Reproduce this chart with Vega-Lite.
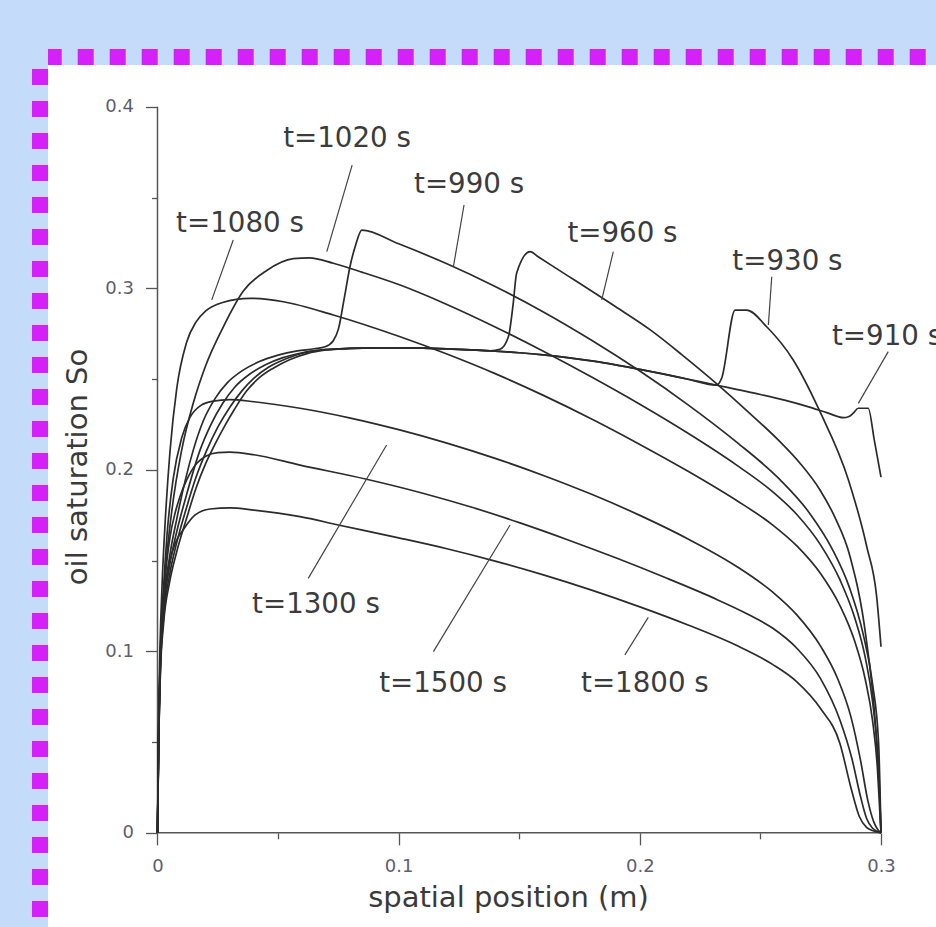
{
  "$schema": "https://vega.github.io/schema/vega-lite/v6.json",
  "width": 888,
  "height": 862,
  "autosize": {"type": "none"},
  "padding": {"left": 48, "top": 65, "right": 0, "bottom": 0},
  "background": "#c4dcfa",
  "config": {
    "view": {"fill": "white", "stroke": null},
    "axis": {"grid": false, "labelFont": "DejaVu Sans", "titleFont": "DejaVu Sans"}
  },
  "datasets": {
    "labels": [
      {"label": "t=1020 s", "lx": 0.0786, "ly": 0.3779, "ax": 0.0807, "ay": 0.3679, "bx": 0.0702, "by": 0.3202},
      {"label": "t=990 s", "lx": 0.1292, "ly": 0.3525, "ax": 0.1271, "ay": 0.3459, "bx": 0.1227, "by": 0.3119},
      {"label": "t=1080 s", "lx": 0.0342, "ly": 0.331, "ax": 0.0314, "ay": 0.3266, "bx": 0.0225, "by": 0.2936},
      {"label": "t=960 s", "lx": 0.1928, "ly": 0.3255, "ax": 0.189, "ay": 0.3202, "bx": 0.1842, "by": 0.2936},
      {"label": "t=930 s", "lx": 0.2612, "ly": 0.31, "ax": 0.2547, "ay": 0.3064, "bx": 0.2533, "by": 0.2798},
      {"label": "t=910 s", "lx": 0.3025, "ly": 0.2687, "ax": 0.303, "ay": 0.2651, "bx": 0.2906, "by": 0.2366},
      {"label": "t=1300 s", "lx": 0.0657, "ly": 0.1211, "ax": 0.095, "ay": 0.2137, "bx": 0.0625, "by": 0.1402},
      {"label": "t=1500 s", "lx": 0.1184, "ly": 0.0776, "ax": 0.1462, "ay": 0.1696, "bx": 0.1144, "by": 0.0998},
      {"label": "t=1800 s", "lx": 0.2021, "ly": 0.0776, "ax": 0.2035, "ay": 0.1187, "bx": 0.1938, "by": 0.098}
    ],
    "curves": [
      {"t":"910","x":0,"y":0},{"t":"910","x":0.0005,"y":0.05},{"t":"910","x":0.0012,"y":0.088},{"t":"910","x":0.0025,"y":0.115},{"t":"910","x":0.005,"y":0.138},{"t":"910","x":0.008,"y":0.155},{"t":"910","x":0.012,"y":0.173},{"t":"910","x":0.016,"y":0.19},{"t":"910","x":0.02,"y":0.2035},{"t":"910","x":0.024,"y":0.2145},{"t":"910","x":0.028,"y":0.2245},{"t":"910","x":0.032,"y":0.2335},{"t":"910","x":0.037,"y":0.2435},{"t":"910","x":0.042,"y":0.2505},{"t":"910","x":0.048,"y":0.256},{"t":"910","x":0.055,"y":0.2608},{"t":"910","x":0.062,"y":0.264},{"t":"910","x":0.07,"y":0.266},{"t":"910","x":0.08,"y":0.2669},{"t":"910","x":0.09,"y":0.2672},{"t":"910","x":0.1,"y":0.2672},{"t":"910","x":0.11,"y":0.267},{"t":"910","x":0.12,"y":0.2666},{"t":"910","x":0.13,"y":0.2661},{"t":"910","x":0.14,"y":0.2654},{"t":"910","x":0.15,"y":0.2645},{"t":"910","x":0.16,"y":0.2633},{"t":"910","x":0.17,"y":0.2618},{"t":"910","x":0.18,"y":0.26},{"t":"910","x":0.19,"y":0.2578},{"t":"910","x":0.2,"y":0.2553},{"t":"910","x":0.21,"y":0.2527},{"t":"910","x":0.22,"y":0.2499},{"t":"910","x":0.232,"y":0.2466},{"t":"910","x":0.24,"y":0.2443},{"t":"910","x":0.25,"y":0.2415},{"t":"910","x":0.26,"y":0.2384},{"t":"910","x":0.27,"y":0.2347},{"t":"910","x":0.2775,"y":0.2315},{"t":"910","x":0.2845,"y":0.2287},{"t":"910","x":0.2865,"y":0.2292},{"t":"910","x":0.2885,"y":0.2312},{"t":"910","x":0.2906,"y":0.2339},{"t":"910","x":0.2947,"y":0.2339},{"t":"910","x":0.2972,"y":0.2165},{"t":"910","x":0.3,"y":0.196},
      {"t":"930","x":0,"y":0},{"t":"930","x":0.0005,"y":0.05},{"t":"930","x":0.0012,"y":0.09},{"t":"930","x":0.0025,"y":0.118},{"t":"930","x":0.005,"y":0.142},{"t":"930","x":0.008,"y":0.16},{"t":"930","x":0.012,"y":0.179},{"t":"930","x":0.016,"y":0.196},{"t":"930","x":0.0204,"y":0.2107},{"t":"930","x":0.025,"y":0.2235},{"t":"930","x":0.03,"y":0.2345},{"t":"930","x":0.035,"y":0.2435},{"t":"930","x":0.04,"y":0.2505},{"t":"930","x":0.046,"y":0.2565},{"t":"930","x":0.053,"y":0.261},{"t":"930","x":0.06,"y":0.2642},{"t":"930","x":0.07,"y":0.2662},{"t":"930","x":0.08,"y":0.2669},{"t":"930","x":0.09,"y":0.2672},{"t":"930","x":0.1,"y":0.2672},{"t":"930","x":0.11,"y":0.267},{"t":"930","x":0.12,"y":0.2666},{"t":"930","x":0.13,"y":0.2661},{"t":"930","x":0.14,"y":0.2654},{"t":"930","x":0.15,"y":0.2645},{"t":"930","x":0.16,"y":0.2633},{"t":"930","x":0.17,"y":0.2618},{"t":"930","x":0.18,"y":0.26},{"t":"930","x":0.19,"y":0.2578},{"t":"930","x":0.2,"y":0.2553},{"t":"930","x":0.21,"y":0.2527},{"t":"930","x":0.22,"y":0.2499},{"t":"930","x":0.2318,"y":0.2467},{"t":"930","x":0.2339,"y":0.2504},{"t":"930","x":0.2395,"y":0.288},{"t":"930","x":0.2443,"y":0.288},{"t":"930","x":0.2526,"y":0.2788},{"t":"930","x":0.2636,"y":0.2605},{"t":"930","x":0.2747,"y":0.232},{"t":"930","x":0.2865,"y":0.1944},{"t":"930","x":0.2941,"y":0.1576},{"t":"930","x":0.2982,"y":0.1301},{"t":"930","x":0.3,"y":0.1025},
      {"t":"960","x":0,"y":0},{"t":"960","x":0.0005,"y":0.052},{"t":"960","x":0.0012,"y":0.092},{"t":"960","x":0.0025,"y":0.121},{"t":"960","x":0.005,"y":0.147},{"t":"960","x":0.008,"y":0.166},{"t":"960","x":0.012,"y":0.186},{"t":"960","x":0.0176,"y":0.2107},{"t":"960","x":0.022,"y":0.2245},{"t":"960","x":0.027,"y":0.2365},{"t":"960","x":0.032,"y":0.2455},{"t":"960","x":0.038,"y":0.2525},{"t":"960","x":0.045,"y":0.258},{"t":"960","x":0.052,"y":0.2618},{"t":"960","x":0.06,"y":0.2645},{"t":"960","x":0.07,"y":0.2663},{"t":"960","x":0.08,"y":0.2669},{"t":"960","x":0.09,"y":0.2672},{"t":"960","x":0.1,"y":0.2672},{"t":"960","x":0.11,"y":0.267},{"t":"960","x":0.12,"y":0.2666},{"t":"960","x":0.13,"y":0.2661},{"t":"960","x":0.138,"y":0.2656},{"t":"960","x":0.142,"y":0.2664},{"t":"960","x":0.1455,"y":0.2733},{"t":"960","x":0.1475,"y":0.2917},{"t":"960","x":0.1489,"y":0.3083},{"t":"960","x":0.1545,"y":0.3202},{"t":"960","x":0.158,"y":0.3172},{"t":"960","x":0.17,"y":0.307},{"t":"960","x":0.19,"y":0.2898},{"t":"960","x":0.2042,"y":0.2772},{"t":"960","x":0.218,"y":0.2628},{"t":"960","x":0.2318,"y":0.2475},{"t":"960","x":0.245,"y":0.2318},{"t":"960","x":0.2581,"y":0.2155},{"t":"960","x":0.2665,"y":0.2035},{"t":"960","x":0.2747,"y":0.1889},{"t":"960","x":0.281,"y":0.1735},{"t":"960","x":0.2871,"y":0.1525},{"t":"960","x":0.2938,"y":0.1075},{"t":"960","x":0.2975,"y":0.063},{"t":"960","x":0.2994,"y":0.024},{"t":"960","x":0.3,"y":0},
      {"t":"990","x":0,"y":0},{"t":"990","x":0.0005,"y":0.054},{"t":"990","x":0.0012,"y":0.095},{"t":"990","x":0.0025,"y":0.125},{"t":"990","x":0.005,"y":0.152},{"t":"990","x":0.008,"y":0.173},{"t":"990","x":0.0148,"y":0.2107},{"t":"990","x":0.019,"y":0.227},{"t":"990","x":0.024,"y":0.2395},{"t":"990","x":0.029,"y":0.248},{"t":"990","x":0.035,"y":0.2545},{"t":"990","x":0.042,"y":0.2595},{"t":"990","x":0.05,"y":0.2632},{"t":"990","x":0.058,"y":0.2655},{"t":"990","x":0.065,"y":0.2667},{"t":"990","x":0.0695,"y":0.2678},{"t":"990","x":0.0728,"y":0.271},{"t":"990","x":0.075,"y":0.2775},{"t":"990","x":0.0775,"y":0.295},{"t":"990","x":0.0798,"y":0.3119},{"t":"990","x":0.0822,"y":0.324},{"t":"990","x":0.0847,"y":0.3321},{"t":"990","x":0.1,"y":0.3245},{"t":"990","x":0.12,"y":0.3135},{"t":"990","x":0.14,"y":0.301},{"t":"990","x":0.16,"y":0.287},{"t":"990","x":0.18,"y":0.2714},{"t":"990","x":0.2,"y":0.2544},{"t":"990","x":0.22,"y":0.2358},{"t":"990","x":0.24,"y":0.2154},{"t":"990","x":0.2581,"y":0.1946},{"t":"990","x":0.27,"y":0.1768},{"t":"990","x":0.28,"y":0.1558},{"t":"990","x":0.287,"y":0.1348},{"t":"990","x":0.2925,"y":0.11},{"t":"990","x":0.2965,"y":0.082},{"t":"990","x":0.299,"y":0.0495},{"t":"990","x":0.3,"y":0},
      {"t":"1020","x":0,"y":0},{"t":"1020","x":0.0005,"y":0.055},{"t":"1020","x":0.0013,"y":0.1},{"t":"1020","x":0.003,"y":0.14},{"t":"1020","x":0.006,"y":0.178},{"t":"1020","x":0.01,"y":0.2107},{"t":"1020","x":0.015,"y":0.2375},{"t":"1020","x":0.02,"y":0.2575},{"t":"1020","x":0.0273,"y":0.2788},{"t":"1020","x":0.0356,"y":0.2985},{"t":"1020","x":0.0453,"y":0.3098},{"t":"1020","x":0.0563,"y":0.3163},{"t":"1020","x":0.063,"y":0.3168},{"t":"1020","x":0.0729,"y":0.3138},{"t":"1020","x":0.085,"y":0.3088},{"t":"1020","x":0.1006,"y":0.3018},{"t":"1020","x":0.12,"y":0.2911},{"t":"1020","x":0.14,"y":0.2787},{"t":"1020","x":0.16,"y":0.2653},{"t":"1020","x":0.18,"y":0.2511},{"t":"1020","x":0.2,"y":0.2361},{"t":"1020","x":0.22,"y":0.2201},{"t":"1020","x":0.24,"y":0.2027},{"t":"1020","x":0.255,"y":0.188},{"t":"1020","x":0.265,"y":0.1755},{"t":"1020","x":0.275,"y":0.1585},{"t":"1020","x":0.283,"y":0.1393},{"t":"1020","x":0.289,"y":0.1189},{"t":"1020","x":0.2935,"y":0.0964},{"t":"1020","x":0.2965,"y":0.0724},{"t":"1020","x":0.2985,"y":0.0444},{"t":"1020","x":0.2997,"y":0.0108},{"t":"1020","x":0.3,"y":0},
      {"t":"1080","x":0,"y":0},{"t":"1080","x":0.0004,"y":0.055},{"t":"1080","x":0.001,"y":0.1},{"t":"1080","x":0.002,"y":0.14},{"t":"1080","x":0.003,"y":0.167},{"t":"1080","x":0.0052,"y":0.2105},{"t":"1080","x":0.008,"y":0.245},{"t":"1080","x":0.012,"y":0.27},{"t":"1080","x":0.016,"y":0.2815},{"t":"1080","x":0.02,"y":0.2875},{"t":"1080","x":0.027,"y":0.2922},{"t":"1080","x":0.0384,"y":0.2945},{"t":"1080","x":0.0522,"y":0.2926},{"t":"1080","x":0.0729,"y":0.2853},{"t":"1080","x":0.1006,"y":0.2733},{"t":"1080","x":0.12,"y":0.2638},{"t":"1080","x":0.14,"y":0.253},{"t":"1080","x":0.16,"y":0.241},{"t":"1080","x":0.18,"y":0.228},{"t":"1080","x":0.2,"y":0.214},{"t":"1080","x":0.22,"y":0.1992},{"t":"1080","x":0.24,"y":0.1832},{"t":"1080","x":0.255,"y":0.1697},{"t":"1080","x":0.265,"y":0.1582},{"t":"1080","x":0.275,"y":0.1427},{"t":"1080","x":0.283,"y":0.1251},{"t":"1080","x":0.289,"y":0.1059},{"t":"1080","x":0.2935,"y":0.0843},{"t":"1080","x":0.2965,"y":0.0618},{"t":"1080","x":0.2985,"y":0.0358},{"t":"1080","x":0.2997,"y":0.007},{"t":"1080","x":0.3,"y":0},
      {"t":"1300","x":0,"y":0},{"t":"1300","x":0.0005,"y":0.056},{"t":"1300","x":0.0012,"y":0.1},{"t":"1300","x":0.0025,"y":0.135},{"t":"1300","x":0.004,"y":0.165},{"t":"1300","x":0.0065,"y":0.195},{"t":"1300","x":0.01,"y":0.2175},{"t":"1300","x":0.0135,"y":0.229},{"t":"1300","x":0.018,"y":0.2355},{"t":"1300","x":0.0231,"y":0.2378},{"t":"1300","x":0.03,"y":0.2387},{"t":"1300","x":0.04,"y":0.2375},{"t":"1300","x":0.0591,"y":0.2339},{"t":"1300","x":0.08,"y":0.2285},{"t":"1300","x":0.1,"y":0.2221},{"t":"1300","x":0.12,"y":0.2147},{"t":"1300","x":0.14,"y":0.2063},{"t":"1300","x":0.16,"y":0.1969},{"t":"1300","x":0.18,"y":0.1865},{"t":"1300","x":0.2,"y":0.1749},{"t":"1300","x":0.22,"y":0.1619},{"t":"1300","x":0.24,"y":0.1469},{"t":"1300","x":0.255,"y":0.1327},{"t":"1300","x":0.265,"y":0.1202},{"t":"1300","x":0.275,"y":0.1027},{"t":"1300","x":0.282,"y":0.085},{"t":"1300","x":0.2875,"y":0.064},{"t":"1300","x":0.2915,"y":0.04},{"t":"1300","x":0.2945,"y":0.018},{"t":"1300","x":0.297,"y":0.006},{"t":"1300","x":0.2988,"y":0.0015},{"t":"1300","x":0.3,"y":0},
      {"t":"1500","x":0,"y":0},{"t":"1500","x":0.0004,"y":0.05},{"t":"1500","x":0.001,"y":0.09},{"t":"1500","x":0.0017,"y":0.115},{"t":"1500","x":0.0031,"y":0.1393},{"t":"1500","x":0.0052,"y":0.1631},{"t":"1500","x":0.0073,"y":0.1762},{"t":"1500","x":0.0093,"y":0.1852},{"t":"1500","x":0.0121,"y":0.1944},{"t":"1500","x":0.0163,"y":0.2036},{"t":"1500","x":0.02,"y":0.2075},{"t":"1500","x":0.025,"y":0.2095},{"t":"1500","x":0.03,"y":0.2097},{"t":"1500","x":0.04,"y":0.2083},{"t":"1500","x":0.0591,"y":0.2026},{"t":"1500","x":0.0867,"y":0.1948},{"t":"1500","x":0.11,"y":0.1871},{"t":"1500","x":0.13,"y":0.1795},{"t":"1500","x":0.15,"y":0.1709},{"t":"1500","x":0.17,"y":0.1615},{"t":"1500","x":0.19,"y":0.1515},{"t":"1500","x":0.21,"y":0.1409},{"t":"1500","x":0.23,"y":0.1297},{"t":"1500","x":0.245,"y":0.1203},{"t":"1500","x":0.255,"y":0.1128},{"t":"1500","x":0.265,"y":0.1018},{"t":"1500","x":0.275,"y":0.0848},{"t":"1500","x":0.283,"y":0.062},{"t":"1500","x":0.288,"y":0.0405},{"t":"1500","x":0.2915,"y":0.02},{"t":"1500","x":0.294,"y":0.008},{"t":"1500","x":0.2965,"y":0.0025},{"t":"1500","x":0.3,"y":0},
      {"t":"1800","x":0,"y":0},{"t":"1800","x":0.0004,"y":0.045},{"t":"1800","x":0.001,"y":0.085},{"t":"1800","x":0.002,"y":0.118},{"t":"1800","x":0.0035,"y":0.138},{"t":"1800","x":0.0052,"y":0.15},{"t":"1800","x":0.0075,"y":0.16},{"t":"1800","x":0.0106,"y":0.1668},{"t":"1800","x":0.0155,"y":0.175},{"t":"1800","x":0.0218,"y":0.1784},{"t":"1800","x":0.03,"y":0.179},{"t":"1800","x":0.04,"y":0.1778},{"t":"1800","x":0.0591,"y":0.1742},{"t":"1800","x":0.075,"y":0.1696},{"t":"1800","x":0.1,"y":0.1625},{"t":"1800","x":0.12,"y":0.1565},{"t":"1800","x":0.14,"y":0.1497},{"t":"1800","x":0.16,"y":0.1421},{"t":"1800","x":0.18,"y":0.1337},{"t":"1800","x":0.2,"y":0.1245},{"t":"1800","x":0.22,"y":0.1145},{"t":"1800","x":0.24,"y":0.1033},{"t":"1800","x":0.255,"y":0.0928},{"t":"1800","x":0.265,"y":0.0833},{"t":"1800","x":0.275,"y":0.0683},{"t":"1800","x":0.283,"y":0.0491},{"t":"1800","x":0.2875,"y":0.025},{"t":"1800","x":0.291,"y":0.009},{"t":"1800","x":0.294,"y":0.003},{"t":"1800","x":0.297,"y":0.001},{"t":"1800","x":0.3,"y":0}
    ]
  },
  "resolve": {"axis": {"x": "independent", "y": "independent"}},
  "layer": [
    {
      "data": {"values": [{}]},
      "mark": {"type": "rule", "color": "#555555", "strokeWidth": 1.5},
      "encoding": {
        "x": {"datum": 0, "type": "quantitative", "scale": {"domain": [-0.045404, 0.322804], "nice": false, "zero": false},
          "axis": {"orient": "bottom", "offset": -94.2, "domain": false, "grid": false, "labels": false, "title": null, "values": [0.05, 0.15, 0.25], "tickSize": 6, "tickColor": "#555555", "tickWidth": 1.3}},
        "x2": {"datum": 0.3},
        "y": {"datum": 0, "type": "quantitative", "scale": {"domain": [-0.051901, 0.42303], "nice": false, "zero": false}, "axis": null}
      }
    },
    {
      "data": {"values": [{}]},
      "mark": {"type": "rule", "color": "#555555", "strokeWidth": 1.5},
      "encoding": {
        "x": {"datum": 0, "type": "quantitative", "scale": {"domain": [-0.045404, 0.322804], "nice": false, "zero": false}, "axis": null},
        "y": {"datum": 0, "type": "quantitative", "scale": {"domain": [-0.051901, 0.42303], "nice": false, "zero": false},
          "axis": {"orient": "left", "offset": -109.5, "domain": false, "grid": false, "labels": false, "title": null, "values": [0.05, 0.15, 0.25, 0.35], "tickSize": 6, "tickColor": "#555555", "tickWidth": 1.3}},
        "y2": {"datum": 0.4}
      }
    },
    {
      "data": {"name": "curves"},
      "mark": {"type": "line", "interpolate": "monotone", "color": "#2b2b2b", "strokeWidth": 1.7},
      "encoding": {
        "x": {"field": "x", "type": "quantitative", "scale": {"domain": [-0.045404, 0.322804], "nice": false, "zero": false},
          "axis": {"orient": "bottom", "offset": -94.2, "domain": false, "grid": false, "values": [0, 0.1, 0.2, 0.3], "tickSize": 12, "tickColor": "#555555", "tickWidth": 1.3,
            "labelExpr": "'' + round(datum.value * 10) / 10", "labelFontSize": 18, "labelColor": "#5e5e6e", "labelPadding": 13, "labelBaseline": "top", "labelAlign": "center", "labelFlush": false, "labelOverlap": false, "labelBound": false,
            "title": "spatial position (m)", "titleFontSize": 29, "titleFontWeight": "normal", "titleColor": "#3a3a3a", "titleX": 460, "titleY": 73.2, "titleBaseline": "alphabetic", "titleAlign": "center", "titleAngle": 0}},
        "y": {"field": "y", "type": "quantitative", "scale": {"domain": [-0.051901, 0.42303], "nice": false, "zero": false},
          "axis": {"orient": "left", "offset": -109.5, "domain": false, "grid": false, "values": [0, 0.1, 0.2, 0.3, 0.4], "tickSize": 12, "tickColor": "#555555", "tickWidth": 1.3,
            "labelExpr": "'' + round(datum.value * 10) / 10", "labelFontSize": 18, "labelColor": "#5e5e6e", "labelPadding": 12, "labelBaseline": "middle", "labelAlign": "right", "labelFlush": false, "labelOverlap": false, "labelBound": false,
            "title": "oil saturation So", "titleFontSize": 29, "titleFontWeight": "normal", "titleColor": "#3a3a3a", "titleX": -71.5, "titleY": 401.5, "titleBaseline": "alphabetic", "titleAlign": "center", "titleAngle": 270}},
        "detail": {"field": "t", "type": "nominal"}
      }
    },
    {
      "data": {"name": "labels"},
      "mark": {"type": "rule", "color": "#444444", "strokeWidth": 1.2},
      "encoding": {
        "x": {"field": "ax", "type": "quantitative", "scale": {"domain": [-0.045404, 0.322804], "nice": false, "zero": false},
          "axis": {"orient": "top", "offset": 8, "translate": 0, "domain": true, "domainColor": "#d620f8", "domainWidth": 16, "domainDash": [16, 16], "domainDashOffset": 2.3, "domainCap": "butt", "ticks": false, "labels": false, "grid": false, "title": null}},
        "x2": {"field": "bx"},
        "y": {"field": "ay", "type": "quantitative", "scale": {"domain": [-0.051901, 0.42303], "nice": false, "zero": false},
          "axis": {"orient": "left", "offset": 8, "translate": 0, "domain": true, "domainColor": "#d620f8", "domainWidth": 16, "domainDash": [16, 16], "domainDashOffset": 22, "domainCap": "butt", "ticks": false, "labels": false, "grid": false, "title": null}},
        "y2": {"field": "by"}
      }
    },
    {
      "data": {"name": "labels"},
      "mark": {"type": "text", "font": "DejaVu Sans", "fontSize": 27.7, "align": "center", "baseline": "alphabetic", "color": "#3b3b3b"},
      "encoding": {
        "x": {"field": "lx", "type": "quantitative", "scale": {"domain": [-0.045404, 0.322804], "nice": false, "zero": false}, "axis": null},
        "y": {"field": "ly", "type": "quantitative", "scale": {"domain": [-0.051901, 0.42303], "nice": false, "zero": false}, "axis": null},
        "text": {"field": "label", "type": "nominal"}
      }
    }
  ]
}
